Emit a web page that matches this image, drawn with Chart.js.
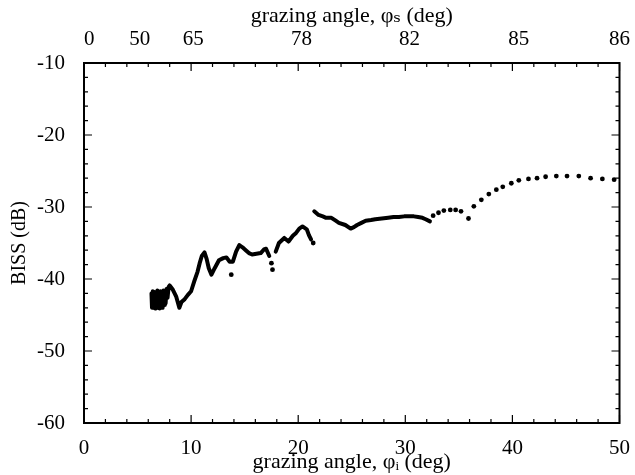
<!DOCTYPE html>
<html>
<head>
<meta charset="utf-8">
<script src="https://cdn.jsdelivr.net/npm/chart.js@4"></script>
<style>
  body { margin: 0; background: #fff; }
  #wrap { width: 635px; height: 475px; }
</style>
</head>
<body>
<div id="wrap"><canvas id="chart_biss" width="635" height="475"></canvas></div>
<script>
// bottom axis: incident grazing angle (deg), left axis: BISS (dB)
var x_ticks = [0, 10, 20, 30, 40, 50];
var y_ticks = [-60, -50, -40, -30, -20, -10];

// top axis: scattered grazing angle, placed against the incident angle
var top_pos = [0.5, 5.2, 10.2, 20.3, 30.4, 40.6, 50];
var top_labels = ["0", "50", "65", "78", "82", "85", "86"];

// dense trace, low angles (the block near 6-8 deg is a fast oscillation)
var seg_a_x = [6.3, 6.35, 6.42, 6.5, 6.57, 6.64, 6.71, 6.78, 6.85, 6.92, 6.99, 7.06, 7.13, 7.2, 7.27, 7.34, 7.41, 7.48, 7.55, 7.62, 7.7, 7.8, 7.9, 8.0, 8.3, 8.6, 8.9, 9.1, 9.4, 9.7, 10.0, 10.3, 10.6, 10.8, 11.0, 11.25, 11.45, 11.65, 11.9, 12.2, 12.6, 13.0, 13.3, 13.6, 13.9, 14.2, 14.5, 14.8, 15.1, 15.4, 15.7, 16.1, 16.5, 16.8, 17.0, 17.3];
var seg_a_y = [-42.0, -44.0, -41.7, -43.9, -41.8, -44.1, -41.9, -44.0, -41.6, -43.8, -42.0, -44.1, -41.7, -43.9, -41.9, -44.0, -41.6, -43.6, -41.8, -43.4, -41.4, -42.6, -41.1, -40.9, -41.5, -42.4, -44.0, -43.2, -42.8, -42.2, -41.7, -40.3, -39.0, -37.8, -36.8, -36.3, -37.2, -38.5, -39.4, -38.5, -37.4, -37.1, -37.0, -37.6, -37.6, -36.2, -35.3, -35.6, -36.0, -36.4, -36.6, -36.5, -36.4, -35.9, -35.8, -36.8];

var seg_b_x = [17.9, 18.2, 18.7, 19.1, 19.5, 19.8, 20.1, 20.4, 20.8, 21.0, 21.2];
var seg_b_y = [-36.2, -35.0, -34.3, -34.8, -34.0, -33.6, -33.0, -32.7, -33.1, -33.9, -34.5];

// dense trace, middle angles
var seg_c_x = [21.5, 21.9, 22.3, 22.6, 23.1, 23.5, 23.8, 24.4, 24.9, 25.2, 25.5, 25.9, 26.3, 26.8, 27.2, 27.8, 28.4, 28.9, 29.4, 29.9, 30.3, 30.8, 31.2, 31.6, 31.9, 32.3];
var seg_c_y = [-30.6, -31.1, -31.3, -31.5, -31.5, -31.9, -32.2, -32.5, -33.0, -32.8, -32.5, -32.2, -31.9, -31.8, -31.7, -31.6, -31.5, -31.4, -31.4, -31.3, -31.3, -31.3, -31.4, -31.5, -31.7, -32.0];

// separate points
var dots_x = [13.75, 17.5, 17.6, 21.4, 32.6, 33.1, 33.6, 34.2, 34.7, 35.2, 35.9, 36.4, 37.1, 37.8, 38.5, 39.1, 39.9, 40.6, 41.5, 42.3, 43.1, 44.1, 45.1, 46.2, 47.3, 48.4, 49.5];
var dots_y = [-39.4, -37.8, -38.7, -35.0, -31.2, -30.8, -30.5, -30.4, -30.4, -30.6, -31.6, -29.9, -29.0, -28.2, -27.6, -27.2, -26.7, -26.3, -26.1, -26.0, -25.8, -25.7, -25.7, -25.7, -26.0, -26.1, -26.2];

function to_points(xs, ys) {
        return xs.map(function(x, i) { return {x: x, y: ys[i]}; });
}

function trace(xs, ys) {
        return {
                data: to_points(xs, ys),
                showLine: true,
                borderColor: "#000",
                borderWidth: 4,
                borderJoinStyle: "round",
                borderCapStyle: "round",
                pointRadius: 0,
                tension: 0
        };
}

// inward tick marks and the box, drawn from the scales
var frame_plugin = {
        id: "frame",
        afterDraw: function(chart) {
                var ctx = chart.ctx;
                var a = chart.chartArea;
                var sx = chart.scales.x;
                var sy = chart.scales.y;
                ctx.save();
                ctx.strokeStyle = "#000";
                ctx.lineWidth = 1.2;
                ctx.beginPath();
                for (let v = 0; v <= 50; v += 2) {
                        let px = sx.getPixelForValue(v);
                        let len = (v % 10 === 0) ? 8 : 4;
                        ctx.moveTo(px, a.bottom); ctx.lineTo(px, a.bottom - len);
                        ctx.moveTo(px, a.top); ctx.lineTo(px, a.top + len);
                }
                for (let v = -60; v <= -10; v += 2) {
                        let py = sy.getPixelForValue(v);
                        let len = (v % 10 === 0) ? 8 : 4;
                        ctx.moveTo(a.left, py); ctx.lineTo(a.left + len, py);
                        ctx.moveTo(a.right, py); ctx.lineTo(a.right - len, py);
                }
                ctx.stroke();
                ctx.lineWidth = 2;
                ctx.strokeRect(a.left, a.top, a.right - a.left, a.bottom - a.top);
                ctx.restore();
        }
};

var serif = "'Liberation Serif', 'DejaVu Serif', serif";
var tick_font = {family: serif, size: 21};
var title_font = {family: serif, size: 22, lineHeight: 1.2};

new Chart("chart_biss", {
        type: "scatter",
        data: {
                datasets: [
                        trace(seg_a_x, seg_a_y),
                        trace(seg_b_x, seg_b_y),
                        trace(seg_c_x, seg_c_y),
                        {
                                data: to_points(dots_x, dots_y),
                                pointRadius: 2.4,
                                pointBackgroundColor: "#000",
                                pointBorderWidth: 0
                        }
                ]
        },
        options: {
                responsive: false,
                animation: false,
                devicePixelRatio: 1,
                layout: { padding: { left: 0, right: 13, top: 0, bottom: 0 } },
                plugins: {
                        legend: { display: false },
                        tooltip: { enabled: false }
                },
                scales: {
                        x: {
                                type: "linear",
                                position: "bottom",
                                min: 0,
                                max: 50,
                                afterBuildTicks: function(axis) { axis.ticks = x_ticks.map(function(v) { return {value: v}; }); },
                                afterFit: function(axis) { axis.height = 52; },
                                grid: { display: false },
                                border: { display: false },
                                ticks: { color: "#000", font: tick_font, padding: 5, maxRotation: 0 },
                                title: { display: true, text: "grazing angle, φᵢ (deg)", color: "#000", font: title_font, padding: { top: 0, bottom: 0 } }
                        },
                        x2: {
                                type: "linear",
                                position: "top",
                                min: 0,
                                max: 50,
                                afterBuildTicks: function(axis) { axis.ticks = top_pos.map(function(v) { return {value: v}; }); },
                                afterFit: function(axis) { axis.height = 63; },
                                grid: { display: false },
                                border: { display: false },
                                ticks: {
                                        color: "#000", font: tick_font, padding: 3, maxRotation: 0, autoSkip: false,
                                        callback: function(value, index) { return top_labels[index]; }
                                },
                                title: { display: true, text: "grazing angle, φₛ (deg)", color: "#000", font: title_font, padding: { top: 3, bottom: 0 } }
                        },
                        y: {
                                type: "linear",
                                min: -60,
                                max: -10,
                                afterBuildTicks: function(axis) { axis.ticks = y_ticks.map(function(v) { return {value: v}; }); },
                                afterFit: function(axis) { axis.width = 84; },
                                grid: { display: false },
                                border: { display: false },
                                ticks: { color: "#000", font: tick_font, padding: 11 },
                                title: { display: true, text: "BISS (dB)", color: "#000", font: {family: serif, size: 20, lineHeight: 1.2}, padding: { top: 8, bottom: 0 } }
                        }
                }
        },
        plugins: [frame_plugin]
});
</script>
</body>
</html>
